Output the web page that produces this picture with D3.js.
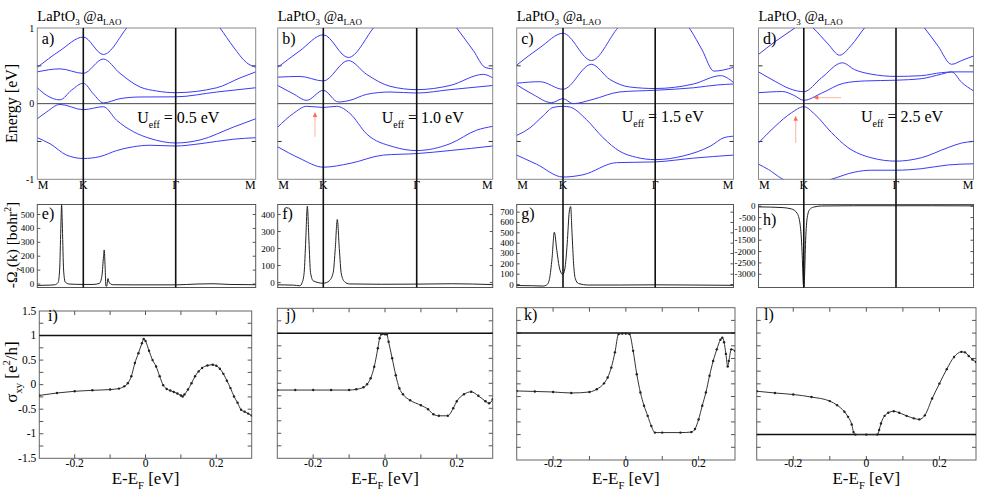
<!DOCTYPE html>
<html>
<head>
<meta charset="utf-8">
<script src="https://cdn.jsdelivr.net/npm/d3@7"></script>
<style>
  body { margin: 0; background: #fff; }
  svg, svg text { font-family: "Liberation Serif", "Times New Roman", Times, "DejaVu Serif", serif; }
</style>
</head>
<body>
<div id="chart"></div>
<script>
const W = 981, H = 491;
const FONT = "Liberation Serif, Times New Roman, DejaVu Serif, serif";

// k path M-K-Γ-M (hexagonal BZ, path length units)
const kLabels = ["M", "K", "Γ", "M"];
const kPoints = [0, 0.577, 1.732, 2.732];
const uEff = ["0.5", "1.0", "1.5", "2.5"];
const energyTicks = [1, 0, -1];

// band energies [k, E(eV)]
const bandsA = [
  [[0,-0.45],[0.159,-0.53],[0.368,-0.68],[0.577,-0.725],[0.785,-0.70],[0.994,-0.62],[1.202,-0.57],[1.411,-0.55],[1.732,-0.56],[2.036,-0.53],[2.453,-0.47],[2.732,-0.45]],
  [[0,-0.2],[0.117,-0.11],[0.284,-0.01],[0.577,-0.08],[0.827,-0.04],[0.994,-0.22],[1.202,-0.37],[1.411,-0.46],[1.732,-0.52],[2.036,-0.48],[2.453,-0.31],[2.732,-0.2]],
  [[0,0.21],[0.117,0.11],[0.284,0.05],[0.431,0.18],[0.577,0.27],[0.702,0.13],[0.827,0.01],[1.036,0.066],[1.286,0.088],[1.732,0.09],[2.245,0.154],[2.732,0.21]],
  [[0,0.42],[0.284,0.46],[0.577,0.40],[0.827,0.59],[1.036,0.40],[1.286,0.22],[1.494,0.167],[1.732,0.145],[2.245,0.21],[2.536,0.34],[2.732,0.42]],
  [[0,0.48],[0.284,0.70],[0.577,0.88],[0.827,0.65],[1.119,1.0],[1.286,1.23],[1.732,1.6],[2.12,1.23],[2.286,1.0],[2.453,0.75],[2.62,0.54],[2.732,0.48]]
];
const bandsB = [
  [[0,-0.57],[0.282,-0.725],[0.577,-0.84],[0.907,-0.79],[1.32,-0.68],[1.732,-0.66],[2.171,-0.62],[2.732,-0.56]],
  [[0,-0.31],[0.198,-0.13],[0.366,-0.035],[0.577,-0.05],[0.742,-0.035],[0.907,-0.13],[1.113,-0.40],[1.443,-0.57],[1.732,-0.62],[2.171,-0.53],[2.522,-0.35],[2.732,-0.30]],
  [[0,0.24],[0.198,0.13],[0.366,0.044],[0.577,0.176],[0.763,0.022],[0.907,0.044],[1.113,0.123],[1.402,0.154],[1.732,0.14],[2.171,0.185],[2.732,0.24]],
  [[0,0.35],[0.282,0.36],[0.577,0.30],[0.886,0.57],[1.113,0.387],[1.402,0.23],[1.732,0.185],[2.171,0.24],[2.61,0.387],[2.732,0.34]],
  [[0,0.48],[0.282,0.70],[0.577,0.91],[0.886,0.61],[1.196,1.0],[1.361,1.23],[1.732,1.6],[2.083,1.23],[2.258,1.0],[2.478,0.70],[2.632,0.48],[2.732,0.46]]
];
const bandsC = [
  [[0,-0.68],[0.247,-0.80],[0.577,-0.97],[0.828,-0.94],[1.247,-0.78],[1.732,-0.77],[2.223,-0.72],[2.732,-0.68]],
  [[0,-0.42],[0.165,-0.32],[0.33,-0.16],[0.454,-0.05],[0.577,-0.035],[0.661,-0.044],[0.87,-0.21],[1.079,-0.45],[1.288,-0.63],[1.497,-0.71],[1.732,-0.74],[2.094,-0.69],[2.439,-0.56],[2.611,-0.45],[2.732,-0.43]],
  [[0,0.25],[0.206,0.12],[0.433,0.013],[0.577,0.066],[0.703,0.0],[0.954,0.057],[1.288,0.155],[1.732,0.177],[2.223,0.21],[2.525,0.247],[2.732,0.26]],
  [[0,0.27],[0.289,0.29],[0.577,0.19],[0.933,0.52],[1.163,0.32],[1.414,0.22],[1.732,0.2],[2.223,0.26],[2.568,0.37],[2.732,0.28]],
  [[0,0.51],[0.289,0.74],[0.577,0.93],[0.933,0.57],[1.247,0.98],[1.414,1.2],[1.732,1.5],[2.008,1.2],[2.18,0.98],[2.331,0.71],[2.482,0.43],[2.732,0.48]]
];
const bandsD = [
  [[0,-0.80],[0.126,-0.87],[0.295,-0.99],[0.421,-1.05],[0.577,-1.07],[0.756,-1.05],[0.922,-1.0],[1.213,-0.905],[1.42,-0.88],[1.732,-0.88],[2.058,-0.86],[2.406,-0.81],[2.732,-0.795]],
  [[0,-0.52],[0.211,-0.30],[0.421,-0.12],[0.577,-0.04],[0.714,-0.14],[0.922,-0.38],[1.13,-0.58],[1.42,-0.715],[1.732,-0.76],[2.058,-0.715],[2.406,-0.58],[2.58,-0.52],[2.732,-0.50]],
  [[0,0.145],[0.15,0.155],[0.308,0.16],[0.45,0.11],[0.577,0.044],[0.797,0.137],[1.076,0.27],[1.337,0.30],[1.732,0.31],[2.058,0.33],[2.319,0.39],[2.45,0.42],[2.58,0.28],[2.732,0.17]],
  [[0,0.42],[0.22,0.29],[0.39,0.20],[0.577,0.158],[0.797,0.34],[1.06,0.54],[1.213,0.45],[1.42,0.39],[1.732,0.36],[2.058,0.37],[2.319,0.41],[2.493,0.42],[2.732,0.42]],
  [[0,0.65],[0.211,0.82],[0.463,1.0],[0.577,1.09],[0.693,1.0],[0.88,0.79],[1.026,0.64],[1.171,0.77],[1.337,1.0],[1.732,1.38],[2.1,1.0],[2.275,0.76],[2.449,0.52],[2.58,0.57],[2.732,0.63]]
];

// red arrows [k1, E1, k2, E2] (tail -> head)
const arrowsB = [[0.472,-0.44,0.472,-0.11]];
const arrowsD = [[0.474,-0.52,0.474,-0.16],[1.043,0.079,0.696,0.079]];

// Berry curvature -Ω_z(k) [bohr^2]
const omegaE = [[0,-10],[0.15,-8],[0.22,-5],[0.26,10],[0.28,100],[0.295,400],[0.305,570],[0.315,400],[0.33,100],[0.35,15],[0.4,0],[0.577,-3],[0.7,-3],[0.78,5],[0.81,60],[0.83,200],[0.838,245],[0.85,120],[0.86,-15],[0.87,-15],[0.885,40],[0.9,10],[0.95,-5],[1.2,-6],[1.732,-6],[2.0,0],[2.2,2],[2.4,-3],[2.732,-5]];
const omegaF = [[0,-13],[0.2,-15],[0.28,-19],[0.31,0],[0.335,60],[0.355,250],[0.375,449],[0.395,250],[0.415,60],[0.45,10],[0.577,-4],[0.65,10],[0.70,60],[0.725,200],[0.75,371],[0.775,200],[0.80,50],[0.84,5],[0.9,-8],[1.3,-10],[1.732,-9],[2.2,-7],[2.732,-12]];
const omegaG = [[0,-10],[0.2,-12],[0.33,-15],[0.38,0],[0.41,60],[0.44,250],[0.469,506],[0.5,330],[0.53,170],[0.555,110],[0.573,95],[0.6,150],[0.63,400],[0.655,700],[0.673,755],[0.69,500],[0.71,200],[0.73,60],[0.77,10],[0.9,-5],[1.3,-5],[1.732,-3],[2.2,-5],[2.732,-8]];
const omegaH = [[0,-30],[0.3,-60],[0.42,-120],[0.49,-300],[0.53,-800],[0.555,-2000],[0.57,-3400],[0.577,-3584],[0.585,-3200],[0.6,-1500],[0.62,-500],[0.65,-150],[0.7,-40],[0.8,10],[1.2,20],[1.732,20],[2.2,20],[2.732,15]];
const omegaDomains = [[-25,572],[-29,459],[-29,774],[-3584,75]];
const omegaTicks = [
  [0,100,200,300,400,500],
  [0,100,200,300,400],
  [0,100,200,300,400,500,600,700],
  [0,-500,-1000,-1500,-2000,-2500,-3000]
];

// anomalous Hall conductivity σ_xy [e^2/h] vs E-E_F [eV]
const sigmaI = [[-0.3,-0.22],[-0.25,-0.17],[-0.2,-0.135],[-0.15,-0.115],[-0.1,-0.10],[-0.075,-0.08],[-0.06,-0.035],[-0.05,0.03],[-0.04,0.17],[-0.03,0.44],[-0.02,0.64],[-0.01,0.845],[-0.005,0.93],[0,0.89],[0.01,0.69],[0.02,0.5],[0.03,0.37],[0.04,0.17],[0.05,-0.01],[0.06,-0.09],[0.07,-0.12],[0.08,-0.15],[0.09,-0.18],[0.1,-0.22],[0.105,-0.24],[0.11,-0.2],[0.12,-0.1],[0.13,0.03],[0.14,0.17],[0.15,0.27],[0.16,0.34],[0.175,0.39],[0.19,0.405],[0.2,0.385],[0.21,0.325],[0.22,0.22],[0.23,0.08],[0.24,-0.07],[0.25,-0.24],[0.26,-0.37],[0.27,-0.51],[0.28,-0.55],[0.29,-0.59],[0.3,-0.63]];
const sigmaJ = [[-0.3,-0.135],[-0.25,-0.135],[-0.2,-0.135],[-0.15,-0.135],[-0.1,-0.135],[-0.08,-0.12],[-0.06,-0.08],[-0.05,-0.02],[-0.04,0.1],[-0.03,0.33],[-0.02,0.7],[-0.015,0.9],[-0.01,0.98],[0,0.98],[0.005,0.98],[0.01,0.83],[0.02,0.5],[0.03,0.16],[0.04,-0.1],[0.05,-0.22],[0.07,-0.34],[0.1,-0.44],[0.12,-0.52],[0.135,-0.62],[0.15,-0.65],[0.175,-0.65],[0.19,-0.5],[0.2,-0.36],[0.22,-0.22],[0.24,-0.17],[0.26,-0.25],[0.28,-0.36],[0.29,-0.4],[0.3,-0.32]];
const sigmaK = [[-0.3,-0.14],[-0.25,-0.15],[-0.2,-0.16],[-0.15,-0.18],[-0.1,-0.16],[-0.08,-0.105],[-0.06,0.01],[-0.05,0.125],[-0.04,0.32],[-0.03,0.62],[-0.02,0.98],[-0.01,0.99],[0,0.99],[0.01,0.98],[0.02,0.65],[0.03,0.19],[0.04,-0.17],[0.05,-0.43],[0.06,-0.63],[0.07,-0.83],[0.08,-0.96],[0.1,-0.96],[0.15,-0.96],[0.18,-0.95],[0.19,-0.89],[0.2,-0.70],[0.21,-0.43],[0.22,-0.17],[0.23,0.16],[0.24,0.45],[0.25,0.68],[0.26,0.87],[0.265,0.91],[0.27,0.82],[0.275,0.59],[0.28,0.34],[0.283,0.45],[0.29,0.68],[0.3,0.65]];
const sigmaL = [[-0.3,-0.145],[-0.25,-0.18],[-0.2,-0.21],[-0.15,-0.26],[-0.1,-0.34],[-0.08,-0.42],[-0.06,-0.55],[-0.05,-0.65],[-0.04,-0.80],[-0.035,-0.95],[-0.03,-1.0],[0,-1.0],[0.03,-1.0],[0.035,-0.91],[0.04,-0.78],[0.05,-0.63],[0.06,-0.57],[0.075,-0.54],[0.09,-0.57],[0.11,-0.63],[0.13,-0.68],[0.145,-0.70],[0.16,-0.62],[0.18,-0.29],[0.2,0.005],[0.22,0.29],[0.24,0.53],[0.26,0.63],[0.27,0.62],[0.28,0.55],[0.29,0.48],[0.3,0.43]];
const quantLevel = [1, 1, 1, -1];
const sigmaTicks = [-1.5, -1, -0.5, 0, 0.5, 1, 1.5];
const eTicks = [-0.2, 0, 0.2];

// ---- layout ----
const bands = [bandsA, bandsB, bandsC, bandsD];
const arrows = [[], arrowsB, [], arrowsD];
const omegas = [omegaE, omegaF, omegaG, omegaH];
const sigmas = [sigmaI, sigmaJ, sigmaK, sigmaL];
const topLetters = ["a)", "b)", "c)", "d)"];
const midLetters = ["e)", "f)", "g)", "h)"];
const botLetters = ["i)", "j)", "k)", "l)"];

const colX = [
  [37.3, 83.3, 175.7, 255.7],
  [277.7, 323.3, 416.7, 492.7],
  [516.7, 563, 655.2, 733.5],
  [758.5, 803.8, 896, 973.5]
];
const topBox = [28, 179.3];
const midBox = [204.5, 287.5];
const botBox = [[39.3, 251.7, 311, 458.3], [277.3, 492.7, 308.3, 458.3], [516.7, 735, 307.7, 460], [756.7, 976, 307.7, 460]];
const uPos = [[137.3, 123.3], [381.7, 123.3], [621.7, 121.7], [861, 121.7]];
const botLetterPos = [[48, 321], [286, 320], [524, 320], [764, 320]];

const svg = d3.select("#chart").append("svg").attr("width", W).attr("height", H)
  .attr("font-family", FONT);
const defs = svg.append("defs");

// text with sub/superscripts: parts = [[text, mode]]
function rich(sel, parts, size) {
  let shift = 0;
  sel.attr("font-family", FONT);
  parts.forEach(([txt, mode]) => {
    const off = mode === "sub" ? size * 0.3 : mode === "sup" ? -size * 0.4 : 0;
    sel.append("tspan").text(txt)
      .attr("dy", off - shift)
      .attr("font-size", mode ? size * 0.62 : size);
    shift = off;
  });
  return sel;
}

function label(g, x, y, txt, size, anchor) {
  return g.append("text").attr("x", x).attr("y", y).attr("font-family", FONT)
    .attr("font-size", size).attr("text-anchor", anchor || "start").text(txt);
}

function box(g, x0, x1, y0, y1, col) {
  g.append("rect").attr("x", x0).attr("y", y0).attr("width", x1 - x0).attr("height", y1 - y0)
    .attr("fill", "none").attr("stroke", col).attr("stroke-width", 1);
}

function clip(id, x0, x1, y0, y1) {
  defs.append("clipPath").attr("id", id).append("rect")
    .attr("x", x0).attr("y", y0).attr("width", x1 - x0).attr("height", y1 - y0);
  return "url(#" + id + ")";
}

const yTop = d3.scaleLinear().domain([-1, 1]).range([topBox[1], topBox[0]]);

for (let c = 0; c < 4; c++) {
  const x = d3.scaleLinear().domain(kPoints).range(colX[c]);
  const x0 = colX[c][0], x3 = colX[c][3];
  const g = svg.append("g");

  // ----- top: band structure -----
  box(g, x0, x3, topBox[0], topBox[1], "#8a8a8a");
  g.append("line").attr("x1", x0).attr("x2", x3).attr("y1", yTop(0)).attr("y2", yTop(0))
    .attr("stroke", "#333").attr("stroke-width", 0.9);
  [0.5, -0.5].forEach(v => {
    g.append("line").attr("x1", x0).attr("x2", x0 + 4).attr("y1", yTop(v)).attr("y2", yTop(v)).attr("stroke", "#333");
    g.append("line").attr("x1", x3 - 4).attr("x2", x3).attr("y1", yTop(v)).attr("y2", yTop(v)).attr("stroke", "#333");
  });
  const bandLine = d3.line().x(d => x(d[0])).y(d => yTop(d[1])).curve(d3.curveMonotoneX);
  const cpT = clip("ct" + c, x0, x3, topBox[0], topBox[1]);
  g.append("g").attr("clip-path", cpT).selectAll("path").data(bands[c]).join("path")
    .attr("d", bandLine).attr("fill", "none").attr("stroke", "#3b3bf5").attr("stroke-width", 1);

  if (c === 0) {
    energyTicks.forEach(v => label(g, x0 - 3, yTop(v) + 3.5, v === -1 ? "-1" : String(v), 10, "end"));
  }
  kLabels.forEach((lab, i) => {
    const anchor = i === 0 ? "start" : i === 3 ? "end" : "middle";
    label(g, x(kPoints[i]) + (i === 0 ? 0.5 : 0), 188.5, lab, 12, anchor);
  });
  label(g, x0 + 4.5, 43.5, topLetters[c], 16);
  rich(g.append("text").attr("x", x0).attr("y", 20.5),
    [["LaPtO"], ["3", "sub"], [" @a"], ["LAO", "sub"]], 14.5);
  rich(g.append("text").attr("x", uPos[c][0]).attr("y", uPos[c][1]),
    [["U"], ["eff", "sub"], [" = " + uEff[c] + " eV"]], 16);

  arrows[c].forEach(a => {
    const ax1 = x(a[0]), ay1 = yTop(a[1]), ax2 = x(a[2]), ay2 = yTop(a[3]);
    const ang = Math.atan2(ay2 - ay1, ax2 - ax1);
    const L = 5, Wd = 2.2;
    const bx = ax2 - L * Math.cos(ang), by = ay2 - L * Math.sin(ang);
    g.append("line").attr("x1", ax1).attr("y1", ay1).attr("x2", bx).attr("y2", by)
      .attr("stroke", "#ffb2a2").attr("stroke-width", 1);
    g.append("path").attr("d", `M${ax2},${ay2}L${bx - Wd * Math.sin(ang)},${by + Wd * Math.cos(ang)}L${bx + Wd * Math.sin(ang)},${by - Wd * Math.cos(ang)}Z`)
      .attr("fill", "#ff6a4a");
  });

  // ----- middle: Berry curvature -----
  const yMid = d3.scaleLinear().domain(omegaDomains[c]).range([midBox[1], midBox[0]]);
  box(g, x0, x3, midBox[0], midBox[1], "#555");
  omegaTicks[c].forEach(v => {
    g.append("line").attr("x1", x0).attr("x2", x0 + 3).attr("y1", yMid(v)).attr("y2", yMid(v)).attr("stroke", "#555");
    g.append("line").attr("x1", x3 - 3).attr("x2", x3).attr("y1", yMid(v)).attr("y2", yMid(v)).attr("stroke", "#555");
    label(g, x0 - 3, yMid(v) + 3, String(v), 9, "end");
  });
  const omLine = d3.line().x(d => x(d[0])).y(d => yMid(d[1])).curve(d3.curveMonotoneX);
  const cpM = clip("cm" + c, x0, x3, midBox[0], midBox[1]);
  g.append("path").datum(omegas[c]).attr("clip-path", cpM).attr("d", omLine)
    .attr("fill", "none").attr("stroke", "#222").attr("stroke-width", 1);
  label(g, x0 + 4.5, c === 3 ? 225 : 218.5, midLetters[c], 16);

  // K and Γ lines spanning both rows
  [kPoints[1], kPoints[2]].forEach(k => {
    g.append("line").attr("x1", x(k)).attr("x2", x(k)).attr("y1", topBox[0]).attr("y2", midBox[1])
      .attr("stroke", "#111").attr("stroke-width", 1.6);
  });

  // ----- bottom: σ_xy -----
  const [bx0, bx1, by0, by1] = botBox[c];
  const xe = d3.scaleLinear().domain([-0.3, 0.3]).range([bx0, bx1]);
  const ys = d3.scaleLinear().domain([-1.5, 1.5]).range([by1, by0]);
  box(g, bx0, bx1, by0, by1, "#666");
  d3.range(-2, 3).map(i => i / 10).forEach(v => {
    g.append("line").attr("x1", xe(v)).attr("x2", xe(v)).attr("y1", by0).attr("y2", by0 + 4).attr("stroke", "#555");
    g.append("line").attr("x1", xe(v)).attr("x2", xe(v)).attr("y1", by1 - 4).attr("y2", by1).attr("stroke", "#555");
  });
  d3.range(-5, 6).map(i => i / 4).forEach(v => {
    g.append("line").attr("x1", bx0).attr("x2", bx0 + 4).attr("y1", ys(v)).attr("y2", ys(v)).attr("stroke", "#555");
    g.append("line").attr("x1", bx1 - 4).attr("x2", bx1).attr("y1", ys(v)).attr("y2", ys(v)).attr("stroke", "#555");
  });
  eTicks.forEach(v => {
    label(g, xe(v), 467, v === 0 ? "0" : (v < 0 ? "-" : "") + Math.abs(v).toFixed(1), 11.5, "middle");
  });
  if (c === 0) {
    sigmaTicks.forEach(v => label(g, bx0 - 3, ys(v) + 3.5, String(v), 11.5, "end"));
  }
  g.append("line").attr("x1", bx0).attr("x2", bx1).attr("y1", ys(quantLevel[c])).attr("y2", ys(quantLevel[c]))
    .attr("stroke", "#111").attr("stroke-width", 1.5);
  const sLine = d3.line().x(d => xe(d[0])).y(d => ys(d[1])).curve(d3.curveMonotoneX);
  const cpB = clip("cb" + c, bx0, bx1, by0, by1);
  const gs = g.append("g").attr("clip-path", cpB);
  gs.append("path").datum(sigmas[c]).attr("d", sLine).attr("fill", "none")
    .attr("stroke", "#333").attr("stroke-width", 1);
  gs.selectAll("circle").data(sigmas[c]).join("circle")
    .attr("cx", d => xe(d[0])).attr("cy", d => ys(d[1])).attr("r", 1.2).attr("fill", "#222");
  label(g, botLetterPos[c][0], botLetterPos[c][1], botLetters[c], 16);
  rich(g.append("text").attr("x", (bx0 + bx1) / 2).attr("y", 484).attr("text-anchor", "middle"),
    [["E-E"], ["F", "sub"], [" [eV]"]], 17);
}

// y-axis titles
rich(svg.append("text").attr("transform", "translate(17,103.5) rotate(-90)").attr("text-anchor", "middle"),
  [["Energy [eV]"]], 16);
rich(svg.append("text").attr("transform", "translate(17,245) rotate(-90)").attr("text-anchor", "middle"),
  [["-Ω"], ["z", "sub"], ["(k) [bohr"], ["2", "sup"], ["]"]], 15.5);
rich(svg.append("text").attr("transform", "translate(17,372) rotate(-90)").attr("text-anchor", "middle"),
  [["σ"], ["xy", "sub"], [" [e"], ["2", "sup"], ["/h]"]], 17);
</script>
</body>
</html>
